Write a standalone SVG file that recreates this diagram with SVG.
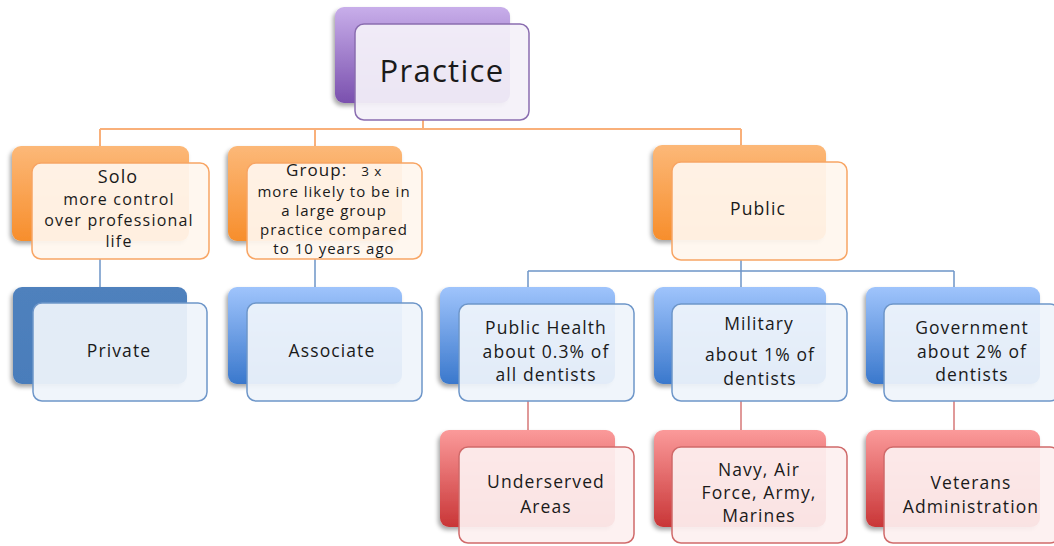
<svg xmlns="http://www.w3.org/2000/svg" width="1054" height="546" viewBox="0 0 1054 546">
<defs>
<linearGradient id="gPurple" x1="0" y1="0" x2="0" y2="1"><stop offset="0" stop-color="#c8aeea"/><stop offset="1" stop-color="#7a50ae"/></linearGradient>
<linearGradient id="gOrange" x1="0" y1="0" x2="0" y2="1"><stop offset="0" stop-color="#fcb878"/><stop offset="1" stop-color="#f78e2c"/></linearGradient>
<linearGradient id="gBlue" x1="0" y1="0" x2="0" y2="1"><stop offset="0" stop-color="#9fc4fc"/><stop offset="1" stop-color="#3a78cc"/></linearGradient>
<linearGradient id="gDark" x1="0" y1="0" x2="0" y2="1"><stop offset="0" stop-color="#4f81bd"/><stop offset="1" stop-color="#4a7dbb"/></linearGradient>
<linearGradient id="gRed" x1="0" y1="0" x2="0" y2="1"><stop offset="0" stop-color="#fb9a9a"/><stop offset="1" stop-color="#c93637"/></linearGradient>
<filter id="sh" x="-10%" y="-10%" width="120%" height="130%"><feDropShadow dx="-2" dy="3" stdDeviation="2" flood-color="#000" flood-opacity="0.35"/></filter>
</defs>
<style>
.back{filter:url(#sh)}
.front{stroke-width:1.5}
.fp{fill:#f4f1f9;fill-opacity:0.93;stroke:#8a6db0}
.fo{fill:#fff6ee;fill-opacity:0.93;stroke:#f8a564}
.fb{fill:#eff4fb;fill-opacity:0.93;stroke:#6e96c9}
.fr{fill:#fdf0f0;fill-opacity:0.93;stroke:#d06a6a}
text{font-family:"Open Sans","Liberation Sans",sans-serif;fill:#1a1a1a;text-anchor:middle}
.m{font-size:17.5px;letter-spacing:1.1px}
.s16{font-size:16px;letter-spacing:1.2px}
.s15{font-size:15px;letter-spacing:1px}
.co{stroke:#f9b07a;stroke-width:2;fill:none}
.cb{stroke:#6e95c8;stroke-width:1.5;fill:none}
.cr{stroke:#d67878;stroke-width:1.5;fill:none}
</style>
<g id="connectors">
<path class="co" d="M423 120V129M100 129H741M100 129V146M315 129V146M741 129V146"/>
<path class="cb" d="M100 259V288M315 259V288M741 260V271M528 271H954M528 271V288M741 271V288M954 271V288"/>
<path class="cr" d="M528 401V430M741 401V430M954 401V430"/>
</g>
<g id="practice">
<rect class="back" x="335" y="7" width="175" height="96" rx="9" fill="url(#gPurple)"/>
<rect class="front fp" x="355" y="24" width="174" height="96" rx="9"/>
<text x="442" y="82" style="font-size:31px;letter-spacing:1.3px">Practice</text>
</g>
<g id="solo">
<rect class="back" x="12" y="146" width="177" height="95" rx="9" fill="url(#gOrange)"/>
<rect class="front fo" x="32" y="163" width="177" height="96" rx="9"/>
<text x="118" y="183" style="font-size:18px;letter-spacing:1.1px">Solo</text>
<text x="119" y="205" class="s16">more control</text>
<text x="119" y="226" class="s16">over professional</text>
<text x="119" y="247" class="s16">life</text>
</g>
<g id="group">
<rect class="back" x="228" y="146" width="174" height="95" rx="9" fill="url(#gOrange)"/>
<rect class="front fo" x="247" y="163" width="175" height="96" rx="9"/>
<text x="334" y="176" style="font-size:17px;letter-spacing:1.1px">Group:<tspan dx="14" style="font-size:13.5px;letter-spacing:0.8px">3 x</tspan></text>
<text x="334" y="197" class="s15">more likely to be in</text>
<text x="334" y="216" class="s15">a large group</text>
<text x="334" y="235" class="s15">practice compared</text>
<text x="334" y="254" class="s15">to 10 years ago</text>
</g>
<g id="public">
<rect class="back" x="653" y="145" width="173" height="95" rx="9" fill="url(#gOrange)"/>
<rect class="front fo" x="672" y="162" width="175" height="98" rx="9"/>
<text x="758" y="215" class="m">Public</text>
</g>
<g id="private">
<rect class="back" x="13" y="287" width="174" height="97" rx="9" fill="url(#gDark)"/>
<rect class="front fb" x="33" y="303" width="174" height="98" rx="9"/>
<text x="119" y="357" class="m">Private</text>
</g>
<g id="associate">
<rect class="back" x="228" y="287" width="174" height="97" rx="9" fill="url(#gBlue)"/>
<rect class="front fb" x="247" y="303" width="175" height="98" rx="9"/>
<text x="332" y="357" class="m">Associate</text>
</g>
<g id="publichealth">
<rect class="back" x="440" y="287" width="175" height="97" rx="9" fill="url(#gBlue)"/>
<rect class="front fb" x="459" y="304" width="175" height="97" rx="9"/>
<text x="546" y="334" class="m">Public Health</text>
<text x="546" y="358" class="m">about 0.3% of</text>
<text x="546" y="381" class="m">all dentists</text>
</g>
<g id="military">
<rect class="back" x="654" y="287" width="172" height="97" rx="9" fill="url(#gBlue)"/>
<rect class="front fb" x="672" y="304" width="175" height="97" rx="9"/>
<text x="759" y="330" class="m">Military</text>
<text x="760" y="361" class="m">about 1% of</text>
<text x="760" y="385" class="m">dentists</text>
</g>
<g id="government">
<rect class="back" x="866" y="287" width="174" height="97" rx="9" fill="url(#gBlue)"/>
<rect class="front fb" x="884" y="304" width="175" height="97" rx="9"/>
<text x="972" y="334" class="m">Government</text>
<text x="972" y="358" class="m">about 2% of</text>
<text x="972" y="381" class="m">dentists</text>
</g>
<g id="underserved">
<rect class="back" x="440" y="430" width="175" height="97" rx="9" fill="url(#gRed)"/>
<rect class="front fr" x="459" y="447" width="175" height="96" rx="9"/>
<text x="546" y="488" class="m">Underserved</text>
<text x="546" y="513" class="m">Areas</text>
</g>
<g id="navy">
<rect class="back" x="654" y="430" width="172" height="97" rx="9" fill="url(#gRed)"/>
<rect class="front fr" x="672" y="447" width="175" height="96" rx="9"/>
<text x="759" y="476" class="m">Navy, Air</text>
<text x="759" y="499" class="m">Force, Army,</text>
<text x="759" y="522" class="m">Marines</text>
</g>
<g id="veterans">
<rect class="back" x="866" y="430" width="174" height="97" rx="9" fill="url(#gRed)"/>
<rect class="front fr" x="884" y="447" width="175" height="96" rx="9"/>
<text x="971" y="489" class="m">Veterans</text>
<text x="971" y="513" class="m">Administration</text>
</g>
</svg>
